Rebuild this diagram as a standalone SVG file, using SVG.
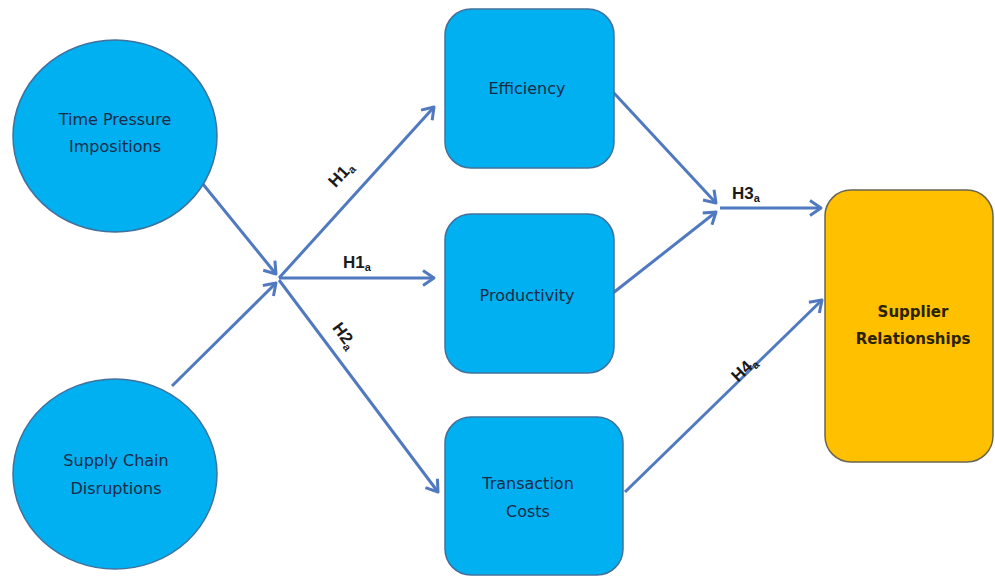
<svg xmlns="http://www.w3.org/2000/svg" width="995" height="577" viewBox="0 0 995 577">
<defs>
<style>
.node{fill:#00B0F0;stroke:#41719C;stroke-width:1.5}
.sup{fill:#FFC000;stroke:#6B6550;stroke-width:1.5}
.lbl{font-family:"DejaVu Sans","Liberation Sans",sans-serif;font-size:16px;fill:#1B2A48;text-anchor:middle}
.blbl{font-family:"DejaVu Sans","Liberation Sans",sans-serif;font-size:15px;font-weight:bold;fill:#2A2200;text-anchor:middle}
.hl{font-family:"Liberation Sans",Arial,sans-serif;font-size:17px;font-weight:bold;fill:#1a1a1a}
.sub{font-size:11px}
.con{stroke:#5079C0;stroke-width:3;fill:none;marker-end:url(#arr)}
</style>
<marker id="arr" markerUnits="userSpaceOnUse" markerWidth="18" markerHeight="20" viewBox="-14 -10 16 20" refX="0" refY="0" orient="auto">
<path d="M-11,-7.5 L0,0 L-11,7.5" fill="none" stroke="#5079C0" stroke-width="3" stroke-linejoin="round"/>
</marker>
</defs>
<rect width="995" height="577" fill="#ffffff"/>
<g id="connectors">
<line class="con" x1="198" y1="178" x2="276" y2="274"/>
<line class="con" x1="172" y1="386" x2="276" y2="283"/>
<line class="con" x1="279" y1="278" x2="434" y2="107"/>
<line class="con" x1="279" y1="278" x2="434" y2="278"/>
<line class="con" x1="279" y1="280" x2="438" y2="492"/>
<line class="con" x1="613" y1="92" x2="716" y2="203"/>
<line class="con" x1="613" y1="293" x2="716" y2="212"/>
<line class="con" x1="720" y1="208" x2="821" y2="208"/>
<line class="con" x1="625" y1="492" x2="822" y2="300"/>
</g>
<g id="labels">
<text class="hl" transform="translate(345,178) rotate(-47)" text-anchor="middle">H1<tspan class="sub" dy="3">a</tspan></text>
<text class="hl" x="343" y="268">H1<tspan class="sub" dy="3">a</tspan></text>
<text class="hl" transform="translate(340,339) rotate(54)" text-anchor="middle">H2<tspan class="sub" dy="3">a</tspan></text>
<text class="hl" x="732" y="199">H3<tspan class="sub" dy="3">a</tspan></text>
<text class="hl" transform="translate(748,373) rotate(-44)" text-anchor="middle">H4<tspan class="sub" dy="3">a</tspan></text>
</g>
<g id="time-pressure">
<ellipse class="node" cx="115" cy="136" rx="102" ry="96"/>
<text class="lbl" x="115" y="125">Time Pressure</text>
<text class="lbl" x="115" y="152">Impositions</text>
</g>
<g id="supply-chain">
<ellipse class="node" cx="115" cy="474" rx="102" ry="95"/>
<text class="lbl" x="116" y="466">Supply Chain</text>
<text class="lbl" x="116" y="494">Disruptions</text>
</g>
<g id="efficiency">
<rect class="node" x="445" y="9" width="169" height="159" rx="26"/>
<text class="lbl" x="527" y="94">Efficiency</text>
</g>
<g id="productivity">
<rect class="node" x="445" y="214" width="169" height="159" rx="26"/>
<text class="lbl" x="527" y="301">Productivity</text>
</g>
<g id="transaction-costs">
<rect class="node" x="445" y="417" width="178" height="158" rx="26"/>
<text class="lbl" x="528" y="489">Transaction</text>
<text class="lbl" x="528" y="517">Costs</text>
</g>
<g id="supplier-relationships">
<rect class="sup" x="825" y="190" width="168" height="272" rx="26"/>
<text class="blbl" x="913" y="317">Supplier</text>
<text class="blbl" x="913" y="344">Relationships</text>
</g>
</svg>
